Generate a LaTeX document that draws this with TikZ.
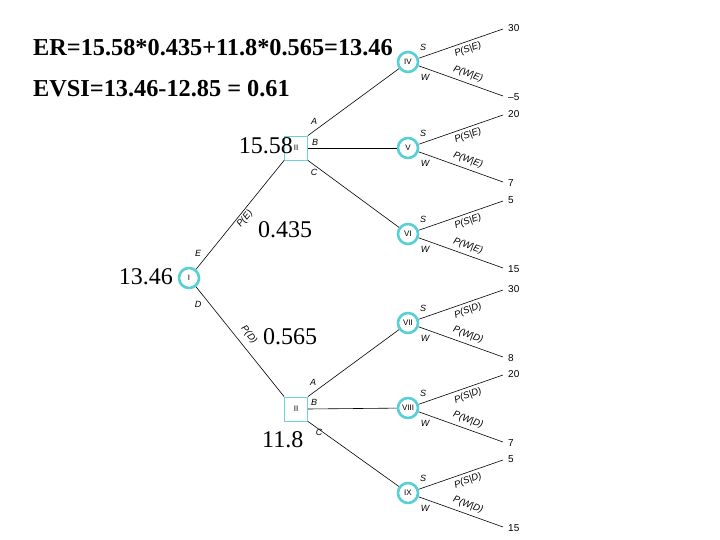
\documentclass[tikz,border=0pt]{standalone}
\usepackage{fontspec}
\setmainfont{Liberation Serif}
\newfontfamily\lsans{Liberation Sans}
\definecolor{turq}{RGB}{86,208,212}
\definecolor{boxc}{RGB}{110,210,214}
\begin{document}
\begin{tikzpicture}[x=1pt,y=-1pt,
  chance/.style={circle,draw=turq,line width=2.6pt,minimum size=20pt,inner sep=0pt,font=\lsans\fontsize{8}{9}\selectfont},
  decision/.style={rectangle,draw=boxc,line width=0.8pt,minimum width=23pt,minimum height=24pt,inner sep=0pt,font=\lsans\fontsize{8}{9}\selectfont},
  branch/.style={line width=0.6pt},
  lab/.style={font=\lsans\itshape\fontsize{9}{10}\selectfont,inner sep=0pt},
  prob/.style={font=\lsans\itshape\fontsize{9.5}{10}\selectfont,inner sep=0pt},
  payoff/.style={font=\lsans\fontsize{10}{11}\selectfont,anchor=west,inner sep=0pt},
  big/.style={font=\fontsize{24}{28}\selectfont,inner sep=0pt},
  bigb/.style={font=\bfseries\fontsize{24.3}{28}\selectfont,inner sep=0pt,anchor=west}]
\useasboundingbox[fill=white] (0,0) rectangle (720,540);

% headline texts
\node[bigb] (er) at (33,48) {ER=15.58*0.435+11.8*0.565=13.46};
\node[bigb] (evsi) at (33,89) {EVSI=13.46-12.85 = 0.61};

% main nodes
\node[chance] (I) at (189,278) {I};
\node[decision] (II) at (296,148) {II};
\node[decision] (IIb) at (296,409) {II};

% connectors from I
\draw[branch] (I) -- (II.south west);
\draw[branch] (I) -- (IIb.north west);
\node[lab] (lE) at (198,253) {E};
\node[lab] (lD) at (198,304) {D};
\node[prob,rotate=51] (pE) at (245,219) {P(E)};
\node[prob,rotate=-51] (pD) at (249,335) {P(D)};

% values
\node[big,anchor=east] (v1346) at (173,277) {13.46};
\node[big,anchor=east] (v1558) at (293,146) {15.58};
\node[big,anchor=west] (v0435) at (258,230) {0.435};
\node[big,anchor=west] (v0565) at (263,337) {0.565};
\node[big,anchor=west] (v118) at (262,440) {11.8};

% chance nodes
\foreach \n/\yy/\up/\lo/\c in {IV/62/30/{\textendash5}/E, V/148/20/7/E, VI/234/5/15/E, VII/323/30/8/D, VIII/408/20/7/D, IX/493/5/15/D}{
  \node[chance] (\n) at (408,\yy) {\n};
  \coordinate (\n u) at (503,\yy-33);
  \coordinate (\n l) at (503,\yy+34);
  \draw[branch] (\n) -- (\n u);
  \draw[branch] (\n) -- (\n l);
  \node[payoff] (\n pu) at (508,\yy-34) {\up};
  \node[payoff] (\n pl) at (508,\yy+35) {\lo};
  \node[lab] (\n S) at (423,\yy-15) {S};
  \node[lab] (\n W) at (425,\yy+15) {W};
  \node[prob,rotate=20] (\n PS) at (468,\yy-12) {P(S|\c)};
  \node[prob,rotate=-20] (\n PW) at (468,\yy+12) {P(W|\c)};
}

% connectors from decision nodes
\draw[branch] (II.north east) -- (IV);
\draw[branch] (II.east) -- (V);
\draw[branch] (II.south east) -- (VI);
\draw[branch] (IIb.north east) -- (VII);
\draw[branch] (IIb.east) -- (VIII);
\draw[branch] (IIb.south east) -- (IX);

\node[lab] (lA1) at (314,121) {A};
\node[lab] (lB1) at (315,142) {B};
\node[lab] (lC1) at (314,172) {C};
\node[lab] (lA2) at (313,382) {A};
\node[lab] (lB2) at (314,402) {B};
\node[lab] (lC2) at (319,432) {C};
\end{tikzpicture}
\end{document}
